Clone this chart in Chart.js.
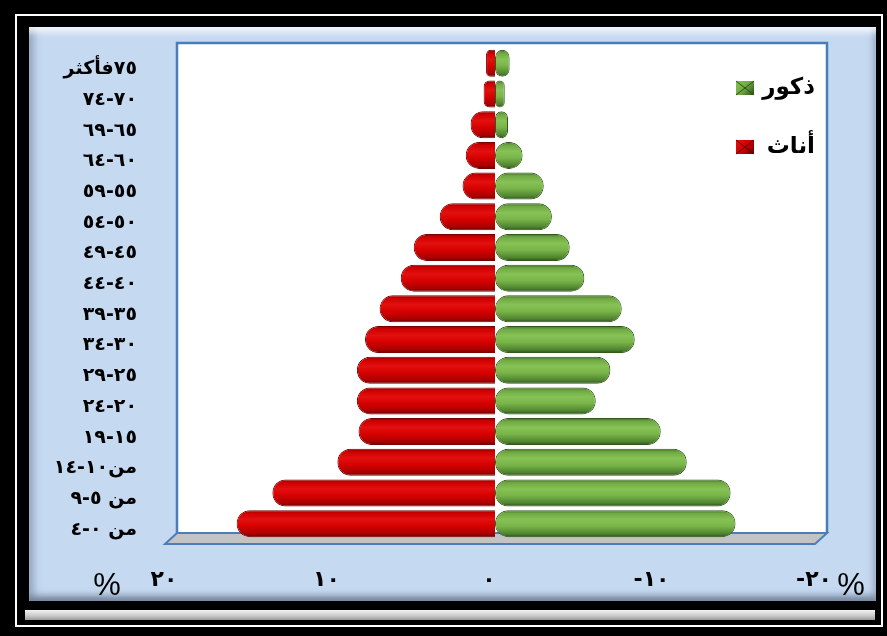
<!DOCTYPE html>
<html lang="ar">
<head>
<meta charset="utf-8">
<title>الهرم السكاني</title>
<script src="https://cdn.jsdelivr.net/npm/chart.js"></script>
<style>
  html, body { margin: 0; padding: 0; background: #000; width: 887px; height: 636px; overflow: hidden; }
  #rim { position: absolute; left: 15px; top: 14px; width: 864px; height: 609px; border: 2px solid #fff; background: #000; }
  #panel {
    position: absolute; left: 29px; top: 27px; width: 847px; height: 574px;
    background: #c5d9f1;
    box-shadow:
      inset 0 9px 7px -4px rgba(255,255,255,0.85),
      inset 9px 0 7px -4px rgba(110,125,150,0.55),
      inset -7px 0 6px -4px rgba(120,135,160,0.55),
      inset 0 -9px 7px -4px rgba(80,95,120,0.7);
  }
  #strip { position: absolute; left: 25px; top: 610px; width: 850px; height: 10px;
    background: linear-gradient(#f2f2f2, #c8c8c8 60%, #9a9a9a); }
  #chart { position: absolute; left: 0; top: 0; }
</style>
</head>
<body>
<div id="rim"></div>
<div id="panel"></div>
<div id="strip"></div>
<canvas id="chart" width="887" height="636"></canvas>
<script>
// Age groups, youngest first (drawn bottom to top)
const ageGroups = [
  'من ٠-٤', 'من ٥-٩', 'من١٠-١٤', '١٥-١٩', '٢٠-٢٤', '٢٥-٢٩', '٣٠-٣٤', '٣٥-٣٩',
  '٤٠-٤٤', '٤٥-٤٩', '٥٠-٥٤', '٥٥-٥٩', '٦٠-٦٤', '٦٥-٦٩', '٧٠-٧٤', '٧٥فأكثر'
];
// Share of each sex in every age group, percent
const malesPct   = [14.8, 14.5, 11.8, 10.2, 6.2, 7.1, 8.6, 7.8, 5.5, 4.6, 3.5, 3.0, 1.7, 0.8, 0.6, 0.9];
const femalesPct = [15.9, 13.7, 9.7, 8.4, 8.5, 8.5, 8.0, 7.1, 5.8, 5.0, 3.4, 2.0, 1.8, 1.5, 0.7, 0.55];
const seriesNames = ['ذكور', 'أناث'];
const xTicks = [-20, -10, 0, 10, 20];

const BAR_PCT = 0.88;
const AR_DIGITS = '٠١٢٣٤٥٦٧٨٩';
const toArabicDigits = (n) => String(n).replace(/\d/g, (d) => AR_DIGITS[d]);

const greenStops = ['#3f6d24', '#6fa842', '#86c255', '#78b448', '#4f8330', '#2b4c17'];
const redStops   = ['#8e0000', '#cf0000', '#e31010', '#d60000', '#a80000', '#650000'];

// Vertical gradient across each bar gives the rounded, tube-like look
function tubeFill(stops) {
  return (ctx) => {
    const chart = ctx.chart;
    const y = chart.scales && chart.scales.y;
    if (!chart.chartArea || !y || ctx.dataIndex === undefined) return stops[2];
    const cy = y.getPixelForValue(ctx.dataIndex);
    const half = Math.abs(y.getPixelForValue(1) - y.getPixelForValue(0)) * BAR_PCT / 2;
    const g = chart.ctx.createLinearGradient(0, cy - half, 0, cy + half);
    g.addColorStop(0, stops[0]);
    g.addColorStop(0.12, stops[1]);
    g.addColorStop(0.35, stops[2]);
    g.addColorStop(0.6, stops[3]);
    g.addColorStop(0.88, stops[4]);
    g.addColorStop(1, stops[5]);
    return g;
  };
}

// Back wall and floor of the plot
const stagePlugin = {
  id: 'stage',
  beforeDraw(chart) {
    const { ctx, chartArea: a } = chart;
    const wall = { l: a.left + 7, t: a.top - 5, r: a.right + 7, b: a.bottom - 6 };
    ctx.save();
    ctx.fillStyle = '#ffffff';
    ctx.fillRect(wall.l, wall.t, wall.r - wall.l, wall.b - wall.t);
    ctx.strokeStyle = '#4a7ebb';
    ctx.lineWidth = 2.5;
    ctx.beginPath();
    ctx.moveTo(wall.l, wall.b);
    ctx.lineTo(wall.l, wall.t);
    ctx.lineTo(wall.r, wall.t);
    ctx.lineTo(wall.r, wall.b);
    ctx.stroke();
    // floor
    ctx.beginPath();
    ctx.moveTo(wall.l, wall.b);
    ctx.lineTo(wall.r, wall.b);
    ctx.lineTo(wall.r - 12, wall.b + 11);
    ctx.lineTo(wall.l - 12, wall.b + 11);
    ctx.closePath();
    ctx.fillStyle = '#c3c3c3';
    ctx.fill();
    ctx.lineWidth = 2;
    ctx.stroke();
    ctx.restore();
  }
};

// Legend inside the plot (top right) and the percent signs under the axis
const annotatePlugin = {
  id: 'annotate',
  afterDraw(chart) {
    const { ctx, chartArea: a } = chart;
    ctx.save();
    const items = [
      { text: seriesNames[0], stops: greenStops, y: a.top + 40, sx: a.right - 84 },
      { text: seriesNames[1], stops: redStops, y: a.top + 99, sx: a.right - 84 }
    ];
    items.forEach((it) => {
      const sx = it.sx, sy = it.y - 7, s = 18, h = 14;
      const g = ctx.createLinearGradient(sx, sy, sx + s, sy + h);
      g.addColorStop(0, it.stops[2]);
      g.addColorStop(0.5, it.stops[1]);
      g.addColorStop(1, it.stops[5]);
      ctx.fillStyle = g;
      ctx.fillRect(sx, sy, s, h);
      ctx.strokeStyle = it.stops[5];
      ctx.lineWidth = 1;
      ctx.beginPath();
      ctx.moveTo(sx, sy); ctx.lineTo(sx + s, sy + h);
      ctx.moveTo(sx + s, sy); ctx.lineTo(sx, sy + h);
      ctx.stroke();
      ctx.fillStyle = '#000';
      ctx.font = 'bold 23px "DejaVu Sans"';
      ctx.textAlign = 'right';
      ctx.textBaseline = 'middle';
      ctx.direction = 'rtl';
      ctx.fillText(it.text, a.right - 5, it.y);
    });
    ctx.direction = 'ltr';
    ctx.textAlign = 'center';
    ctx.textBaseline = 'middle';
    ctx.fillStyle = '#000';
    ctx.font = '31px "Liberation Sans Narrow", "Liberation Sans"';
    ctx.fillText('%', a.left - 63, a.bottom + 47);
    ctx.fillText('%', a.right + 31, a.bottom + 47);
    ctx.restore();
  }
};

new Chart(document.getElementById('chart'), {
  type: 'bar',
  data: {
    labels: ageGroups,
    datasets: [
      {
        label: seriesNames[0],
        data: malesPct.map((v) => -v),
        backgroundColor: tubeFill(greenStops),
        borderColor: '#2f5a1a',
        borderWidth: 1,
        borderRadius: 13,
        borderSkipped: false,
        barPercentage: BAR_PCT,
        categoryPercentage: 1
      },
      {
        label: seriesNames[1],
        data: femalesPct,
        backgroundColor: tubeFill(redStops),
        borderColor: '#7a0000',
        borderWidth: 1,
        borderRadius: 13,
        barPercentage: BAR_PCT,
        categoryPercentage: 1
      }
    ]
  },
  options: {
    indexAxis: 'y',
    responsive: false,
    animation: false,
    devicePixelRatio: 1,
    layout: { padding: { left: 0, right: 67, top: 48, bottom: 0 } },
    plugins: { legend: { display: false }, tooltip: { enabled: false } },
    scales: {
      x: {
        stacked: true,
        reverse: true,
        min: -20,
        max: 20,
        afterBuildTicks(scale) { scale.ticks = xTicks.map((v) => ({ value: v })); },
        afterFit(scale) { scale.height = 97; },
        grid: { display: false, drawTicks: false },
        border: { display: false },
        ticks: {
          padding: 28,
          labelOffset: -6,
          color: '#000',
          font: { family: '"DejaVu Sans"', size: 22, weight: 'bold' },
          callback: (v) => toArabicDigits(v)
        }
      },
      y: {
        stacked: true,
        reverse: true,
        afterFit(scale) { scale.width = 170; },
        grid: { display: false, drawTicks: false },
        border: { display: false },
        ticks: {
          padding: 33,
          labelOffset: 6,
          autoSkip: false,
          color: '#000',
          font: { family: '"DejaVu Sans"', size: 19, weight: 'bold' },
          callback: function (v) { return '\u202B' + this.getLabelForValue(v) + '\u202C'; }
        }
      }
    }
  },
  plugins: [stagePlugin, annotatePlugin]
});
</script>
</body>
</html>
